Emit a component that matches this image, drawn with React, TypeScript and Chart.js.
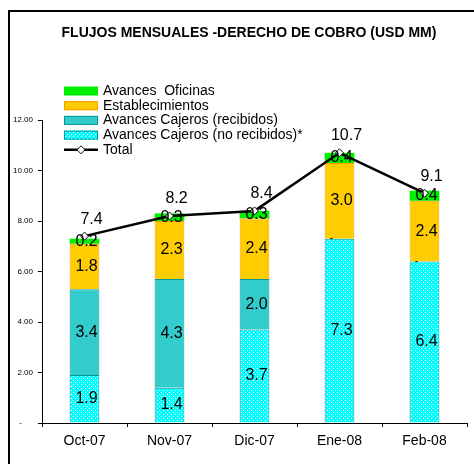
import React, { useEffect, useRef } from "react";
import { Chart, registerables } from "chart.js";

Chart.register(...registerables);

const categories = ["Oct-07", "Nov-07", "Dic-07", "Ene-08", "Feb-08"];
const noRecibidos = [1.9, 1.4, 3.7, 7.3, 6.4];
const recibidos = [3.4, 4.3, 2.0, 0, 0];
const establecimientos = [1.8, 2.3, 2.4, 3.0, 2.4];
const oficinas = [0.2, 0.3, 0.3, 0.4, 0.4];
const totals = [7.4, 8.2, 8.4, 10.7, 9.1];

const titleText = "FLUJOS MENSUALES -DERECHO DE COBRO (USD MM)";
const legendLabels = [
  "Avances  Oficinas",
  "Establecimientos",
  "Avances Cajeros (recibidos)",
  "Avances Cajeros (no recibidos)*",
  "Total",
];

const FONT = "'Liberation Sans', Arial, sans-serif";
const GREEN = "#00F000";
const ORANGE = "#FFCC00";
const ORANGE_B = "#FF9900";
const TEAL = "#33CCCC";
const TEAL_B = "#009999";

function makePattern(): CanvasPattern | string {
  const c = document.createElement("canvas");
  c.width = 4;
  c.height = 4;
  const g = c.getContext("2d");
  if (!g) return "#00FFFF";
  g.fillStyle = "#00FFFF";
  g.fillRect(0, 0, 4, 4);
  g.fillStyle = "#FFFFFF";
  g.fillRect(1, 0, 1, 1);
  g.fillRect(3, 2, 1, 1);
  const p = g.createPattern(c, "repeat");
  return p || "#00FFFF";
}

export default function App() {
  const ref = useRef<HTMLCanvasElement | null>(null);

  useEffect(() => {
    if (!ref.current) return;
    const pattern = makePattern();

    const decor = {
      id: "decor",
      beforeDraw(chart: any) {
        const ctx = chart.ctx;
        ctx.save();
        ctx.fillStyle = "#fff";
        ctx.fillRect(0, 0, chart.width, chart.height);
        ctx.fillStyle = "#000";
        ctx.fillRect(8, 10, 2, chart.height - 10);
        ctx.fillRect(8, 10, chart.width - 8, 2);
        ctx.font = `bold 14px ${FONT}`;
        ctx.textAlign = "center";
        ctx.textBaseline = "middle";
        ctx.fillText(titleText, 249, 33);
        ctx.restore();
      },
      afterDraw(chart: any) {
        const ctx = chart.ctx;
        ctx.save();
        const fills: any[] = [GREEN, ORANGE, TEAL, pattern];
        const borders: any[] = [null, ORANGE_B, TEAL_B, TEAL_B];
        ctx.font = `14px ${FONT}`;
        ctx.textBaseline = "middle";
        ctx.textAlign = "left";
        for (let i = 0; i < legendLabels.length; i++) {
          const cy = 91 + i * 14.7;
          if (i < 4) {
            ctx.fillStyle = fills[i];
            ctx.fillRect(64, cy - 4.5, 34, 9);
            if (borders[i]) {
              ctx.strokeStyle = borders[i];
              ctx.lineWidth = 1;
              ctx.strokeRect(64.5, cy - 4, 33, 8);
            }
          } else {
            ctx.strokeStyle = "#000";
            ctx.lineWidth = 2.5;
            ctx.beginPath();
            ctx.moveTo(64, cy);
            ctx.lineTo(98, cy);
            ctx.stroke();
            ctx.fillStyle = "#fff";
            ctx.lineWidth = 1;
            ctx.beginPath();
            ctx.moveTo(81, cy - 4);
            ctx.lineTo(85, cy);
            ctx.lineTo(81, cy + 4);
            ctx.lineTo(77, cy);
            ctx.closePath();
            ctx.fill();
            ctx.stroke();
          }
          ctx.fillStyle = "#000";
          ctx.fillText(legendLabels[i], 103, cy);
        }
        ctx.restore();
      },
      afterDatasetsDraw(chart: any) {
        const ctx = chart.ctx;
        ctx.save();
        ctx.fillStyle = "#000";
        ctx.textAlign = "center";
        ctx.textBaseline = "middle";
        chart.data.datasets.forEach((ds: any, di: number) => {
          const meta = chart.getDatasetMeta(di);
          meta.data.forEach((el: any, i: number) => {
            const v = ds.data[i] as number;
            if (ds.type === "line") {
              ctx.font = `16px ${FONT}`;
              ctx.fillText(v.toFixed(1), el.x + 7, el.y - 17);
            } else if (v === 0) {
              ctx.font = `10px ${FONT}`;
              ctx.fillText("-", el.x - 8, el.y);
            } else {
              ctx.font = `16px ${FONT}`;
              ctx.fillText(v.toFixed(1), el.x + 2, (el.y + el.base) / 2);
            }
          });
        });
        ctx.restore();
      },
    };

    const chart = new Chart(ref.current, {
      type: "bar",
      data: {
        labels: categories,
        datasets: [
          {
            type: "line",
            label: legendLabels[4],
            data: totals,
            borderColor: "#000",
            borderWidth: 2.5,
            pointStyle: "rectRot",
            pointRadius: 4,
            pointBackgroundColor: "#fff",
            pointBorderColor: "#000",
            pointBorderWidth: 1,
            tension: 0,
            stack: "total",
            order: 0,
          } as any,
          {
            type: "bar",
            label: legendLabels[3],
            data: noRecibidos,
            backgroundColor: pattern as any,
            borderColor: TEAL_B,
            borderWidth: 1,
            stack: "s",
            order: 1,
          },
          {
            type: "bar",
            label: legendLabels[2],
            data: recibidos,
            backgroundColor: TEAL,
            borderColor: TEAL_B,
            borderWidth: 1,
            stack: "s",
            order: 1,
          },
          {
            type: "bar",
            label: legendLabels[1],
            data: establecimientos,
            backgroundColor: ORANGE,
            borderColor: ORANGE_B,
            borderWidth: 1,
            stack: "s",
            order: 1,
          },
          {
            type: "bar",
            label: legendLabels[0],
            data: oficinas,
            backgroundColor: GREEN,
            borderWidth: 0,
            stack: "s",
            order: 1,
          },
        ],
      },
      options: {
        animation: false,
        responsive: false,
        devicePixelRatio: 1,
        layout: { padding: { left: 0, right: 7, top: 120, bottom: 0 } },
        datasets: { bar: { barPercentage: 0.35, categoryPercentage: 1 } },
        plugins: {
          legend: { display: false },
          title: { display: false },
          tooltip: { enabled: false },
        },
        scales: {
          x: {
            stacked: true,
            grid: {
              offset: true,
              drawOnChartArea: false,
              drawTicks: true,
              tickLength: 4,
              color: "#000",
            },
            border: { color: "#000", width: 1 },
            ticks: {
              color: "#000",
              font: { family: FONT, size: 14 },
              padding: 6,
            },
            afterFit: (s: any) => {
              s.height = 41;
            },
          },
          y: {
            stacked: true,
            min: 0,
            max: 12,
            grid: {
              drawOnChartArea: false,
              drawTicks: true,
              tickLength: 4,
              color: "#000",
            },
            border: { color: "#000", width: 1 },
            ticks: {
              stepSize: 2,
              color: "#000",
              font: { family: FONT, size: 8 },
              padding: 5,
              callback: (v: any) => (Number(v) === 0 ? "-     " : Number(v).toFixed(2)),
            },
            afterFit: (s: any) => {
              s.width = 42;
            },
          },
        },
      },
      plugins: [decor],
    });
    return () => chart.destroy();
  }, []);

  return (
    <div style={{ position: "absolute", left: 0, top: 0, width: 474, height: 464 }}>
      <canvas ref={ref} width={474} height={464} style={{ display: "block", width: 474, height: 464 }} />
    </div>
  );
}
